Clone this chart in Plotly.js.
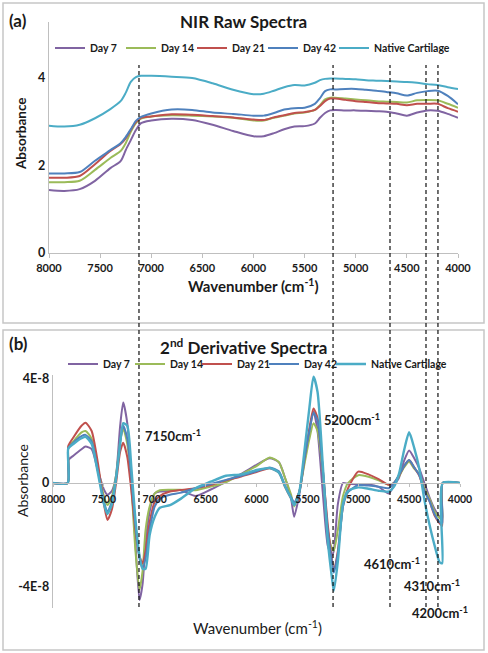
<!DOCTYPE html>
<html><head><meta charset="utf-8">
<script src="https://cdn.plot.ly/plotly-3.0.1.min.js"></script>
<style>html,body{margin:0;padding:0;background:#fff}#chart{width:488px;height:653px}</style>
</head><body><div id="chart"></div>
<script>
// ---------- data ----------
const seriesNames = ['Day 7', 'Day 14', 'Day 21', 'Day 42', 'Native Cartilage'];
const seriesColors = ['#8064A2', '#9BBB59', '#C0504D', '#4F81BD', '#4BACC6'];

// (a) NIR raw spectra
const rawWavenumber = [8000,7850,7700,7550,7400,7300,7250,7200,7150,7100,7000,6800,6600,6400,6200,6000,5900,5800,5700,5600,5500,5400,5350,5300,5250,5200,5100,5000,4900,4800,4700,4600,4500,4400,4300,4200,4100,4000];
const rawDay7   = [1.44,1.42,1.46,1.65,1.94,2.10,2.35,2.58,2.81,2.97,3.03,3.07,3.04,2.93,2.79,2.67,2.67,2.74,2.83,2.89,2.90,2.96,3.09,3.20,3.26,3.27,3.26,3.26,3.25,3.24,3.23,3.19,3.14,3.21,3.26,3.25,3.18,3.09];
const rawDay14  = [1.62,1.62,1.65,1.90,2.17,2.33,2.51,2.77,2.97,3.07,3.12,3.15,3.14,3.12,3.09,3.03,3.03,3.09,3.14,3.19,3.21,3.27,3.38,3.51,3.55,3.55,3.53,3.51,3.49,3.47,3.46,3.45,3.44,3.49,3.50,3.49,3.41,3.32];
const rawDay21  = [1.72,1.72,1.76,2.03,2.33,2.49,2.62,2.81,2.99,3.09,3.12,3.17,3.16,3.13,3.10,3.05,3.04,3.10,3.15,3.20,3.22,3.27,3.36,3.47,3.53,3.53,3.50,3.47,3.45,3.43,3.42,3.41,3.38,3.41,3.41,3.41,3.31,3.23];
const rawDay42  = [1.82,1.82,1.85,2.11,2.35,2.51,2.65,2.83,3.02,3.11,3.19,3.28,3.27,3.21,3.18,3.14,3.14,3.20,3.28,3.31,3.32,3.41,3.54,3.70,3.74,3.74,3.75,3.75,3.73,3.71,3.68,3.65,3.60,3.66,3.70,3.71,3.59,3.40];
const rawNative = [2.91,2.89,2.93,3.08,3.29,3.47,3.66,3.91,4.02,4.05,4.05,4.03,4.00,3.88,3.73,3.63,3.64,3.71,3.79,3.84,3.83,3.89,3.95,3.98,3.99,3.99,3.98,3.97,3.95,3.94,3.93,3.92,3.91,3.89,3.86,3.84,3.79,3.75];

// (b) 2nd derivative spectra, values in units of 1E-8
const derivScale = 1e-8;
const derivWavenumber = [8000,7855,7850,7800,7720,7680,7620,7560,7500,7465,7420,7380,7340,7310,7270,7230,7190,7150,7120,7090,7050,7000,6950,6850,6750,6600,6450,6300,6150,6000,5870,5780,5720,5660,5630,5580,5530,5480,5440,5400,5350,5300,5260,5240,5200,5150,5100,5000,4900,4800,4700,4650,4600,4550,4500,4450,4400,4350,4300,4250,4200,4175,4170,4000];
const derivDay7   = [0,0,0.88,1.05,1.3,1.4,1.3,0.5,-0.25,-0.45,-0.3,0.3,2.2,3.1,2.3,0.2,-2.3,-4.5,-3.9,-2.3,-1.1,-0.4,-0.33,-0.3,-0.27,-0.5,-0.25,0.05,0.35,0.7,0.95,0.8,0.2,-0.6,-1.3,-0.45,0.8,2.0,2.75,2.0,-0.3,-2.4,-2.8,-2.6,-0.8,0.0,-0.03,-0.05,-0.06,-0.15,-0.4,-0.1,0.2,0.85,1.25,0.95,0.55,0.0,-0.55,-1.0,-1.3,-1.35,0,0];
const derivDay14  = [0,0,1.37,1.6,1.95,2.0,1.7,0.6,-0.5,-0.85,-0.5,0.3,1.6,2.1,1.5,-0.1,-2.6,-4.1,-3.4,-1.8,-0.9,-0.4,-0.28,-0.26,-0.26,-0.28,-0.14,0.03,0.33,0.65,0.98,0.8,0.2,-0.45,-0.9,-0.35,0.7,1.7,2.3,2.0,0.5,-1.8,-2.5,-2.6,-1.8,-0.5,0.0,0.3,0.24,0.1,-0.07,0.0,0.25,0.6,0.82,0.55,0.35,-0.2,-0.6,-1.1,-1.36,-1.42,0,0];
const derivDay21  = [0,0,1.42,1.75,2.2,2.32,2.0,0.8,-0.8,-1.42,-1.0,0.0,1.2,1.55,1.0,-0.3,-1.8,-2.8,-3.1,-2.6,-1.5,-0.72,-0.5,-0.33,-0.27,-0.2,-0.08,0.1,0.25,0.42,0.57,0.4,-0.15,-0.6,-0.78,-0.35,0.9,2.1,2.87,2.5,0.6,-1.6,-2.9,-3.4,-2.6,-0.9,-0.2,0.44,0.33,0.15,-0.07,0.0,0.28,0.65,0.88,0.6,0.28,-0.3,-0.7,-1.25,-1.55,-1.65,0,0];
const derivDay42  = [0,0,1.33,1.55,1.8,1.85,1.6,0.5,-0.7,-1.1,-0.7,0.2,1.6,2.2,1.7,0.2,-1.6,-2.9,-3.27,-2.9,-1.8,-0.9,-0.6,-0.45,-0.38,-0.2,-0.04,0.12,0.28,0.45,0.6,0.45,-0.1,-0.55,-0.75,-0.35,0.9,2.0,2.7,2.4,0.6,-1.8,-3.0,-3.45,-2.7,-0.9,-0.35,-0.08,-0.1,-0.14,-0.2,0.0,0.3,0.65,0.88,0.6,0.3,-0.3,-0.7,-1.2,-1.5,-1.55,0,0];
const derivNative = [0,0,1.33,1.5,1.72,1.78,1.5,0.4,-0.8,-1.19,-0.8,0.2,1.5,2.3,2.2,0.6,-1.4,-2.8,-3.3,-3.3,-2.0,-1.3,-0.95,-0.85,-0.62,-0.2,0.05,0.28,0.33,0.5,0.57,0.4,-0.12,-0.6,-0.85,-0.35,1.2,2.9,4.09,3.5,0.8,-2.2,-3.6,-4.15,-3.0,-0.8,-0.3,-0.17,-0.22,-0.3,-0.33,-0.15,0.35,1.25,1.95,1.35,0.55,-0.65,-1.6,-2.4,-3.05,-3.09,0,0];

// marked bands (dashed lines) and their labels
const bandWavenumber = [7120, 5222, 4665, 4313, 4196];
const bandLabels = ['7150cm<sup>-1</sup>', '5200cm<sup>-1</sup>', '4610cm<sup>-1</sup>', '4310cm<sup>-1</sup>', '4200cm<sup>-1</sup>'];

// ticks
const xTickVals = [8000,7500,7000,6500,6000,5500,5000,4500,4000];
const rawYTickVals = [0,2,4];
const derivYTickVals = [-4e-8, 0, 4e-8];
const derivYTickText = ['-4E-8', '0', '4E-8'];

// ---------- build ----------
const W = 488, H = 653;
const px = x => x / W;
const py = y => 1 - y / H;
const FONT = 'Lato, "Open Sans", sans-serif';
const TXT = '#1a1a1a';

const rawSeries = [rawDay7, rawDay14, rawDay21, rawDay42, rawNative];
const derivSeries = [derivDay7, derivDay14, derivDay21, derivDay42, derivNative];
const topLegendWidths = [26, 26, 26, 26, 90];
const botLegendWidths = [22, 22, 22, 22, 90];

const traces = [];
rawSeries.forEach((ys, i) => traces.push({
  type: 'scatter', mode: 'lines', name: seriesNames[i],
  x: rawWavenumber, y: ys, xaxis: 'x', yaxis: 'y', legend: 'legend',
  legendwidth: topLegendWidths[i],
  line: {color: seriesColors[i], width: 2, shape: 'spline', smoothing: 0.8},
  hoverinfo: 'skip'
}));
derivSeries.forEach((ys, i) => traces.push({
  type: 'scatter', mode: 'lines', name: seriesNames[i],
  x: derivWavenumber, y: ys.map(v => v * derivScale), xaxis: 'x2', yaxis: 'y2', legend: 'legend2',
  legendwidth: botLegendWidths[i],
  line: {color: seriesColors[i], width: i === 4 ? 2.4 : 2, shape: 'spline', smoothing: 0.6},
  hoverinfo: 'skip'
}));

const axisCommon = {
  showgrid: false, zeroline: false, showline: true,
  linecolor: '#bfbfbf', linewidth: 1.3, tickcolor: '#bfbfbf'
};

const shapes = [
  {type: 'rect', xref: 'paper', yref: 'paper', x0: px(3), x1: px(484), y0: py(323), y1: py(3),
   line: {color: '#c6c6c6', width: 1.5}, layer: 'below'},
  {type: 'rect', xref: 'paper', yref: 'paper', x0: px(3), x1: px(484), y0: py(650), y1: py(330),
   line: {color: '#c6c6c6', width: 1.5}, layer: 'below'}
];
bandWavenumber.forEach(w => shapes.push({
  type: 'line', xref: 'x', yref: 'paper', x0: w, x1: w, y0: py(607), y1: py(65),
  line: {color: '#111', width: 1.2, dash: '4px,3px'}
}));

const ann = (text, x, y, opts) => Object.assign({
  text, xref: 'paper', yref: 'paper', x: px(x), y: py(y), showarrow: false,
  xanchor: 'center', yanchor: 'middle',
  font: {family: FONT, size: 13, color: TXT, weight: 'bold'}
}, opts || {});

const annotations = [
  ann('(a)', 18, 20, {font: {family: FONT, size: 17, color: TXT, weight: 'bold'}}),
  ann('NIR Raw Spectra', 243, 22, {font: {family: FONT, size: 17, color: TXT, weight: 'bold'}}),
  ann('Wavenumber (cm<sup>-1</sup>)', 253, 285, {font: {family: FONT, size: 15, color: TXT, weight: 'bold'}}),
  ann('Absorbance', 21, 134, {textangle: -90, font: {family: FONT, size: 13.5, color: TXT, weight: 'bold'}}),
  ann('(b)', 18, 343, {font: {family: FONT, size: 17, color: TXT, weight: 'bold'}}),
  ann('2<sup>nd</sup> Derivative Spectra', 243, 346, {font: {family: FONT, size: 17, color: TXT, weight: 'bold'}}),
  ann('Wavenumber (cm<sup>-1</sup>)', 257, 627, {font: {family: FONT, size: 15, color: TXT}}),
  ann('Absorbance', 22, 481, {textangle: -90, font: {family: FONT, size: 14, color: TXT}}),
  ann(bandLabels[0], 143, 435, {xanchor: 'left'}),
  ann(bandLabels[1], 322, 419, {xanchor: 'left'}),
  ann(bandLabels[2], 362, 563, {xanchor: 'left'}),
  ann(bandLabels[3], 402, 585, {xanchor: 'left'}),
  ann(bandLabels[4], 410, 612, {xanchor: 'left'})
];

const legendCommon = {
  orientation: 'h', xanchor: 'left', yanchor: 'middle',
  bgcolor: 'rgba(0,0,0,0)', borderwidth: 0, itemwidth: 30,
  itemclick: false, itemdoubleclick: false,
  font: {family: FONT, size: 10.5, color: TXT, weight: 'bold'}
};

const layout = {
  width: W, height: H, margin: {l: 0, r: 0, t: 0, b: 0},
  paper_bgcolor: '#fff', plot_bgcolor: 'rgba(0,0,0,0)',
  showlegend: true,
  legend: Object.assign({}, legendCommon, {x: px(50), y: py(48)}),
  legend2: Object.assign({}, legendCommon, {x: px(63), y: py(364)}),
  xaxis: Object.assign({}, axisCommon, {
    domain: [px(49), px(458)], range: [8000, 4000], anchor: 'y',
    tickvals: xTickVals, ticks: 'outside', ticklen: 4,
    tickfont: {family: FONT, size: 11, color: TXT, weight: 'bold'}
  }),
  yaxis: Object.assign({}, axisCommon, {
    domain: [py(253), py(22)], range: [0, 5.28], anchor: 'x',
    tickvals: rawYTickVals, ticks: '',
    tickfont: {family: FONT, size: 12.5, color: TXT, weight: 'bold'}
  }),
  xaxis2: Object.assign({}, axisCommon, {
    domain: [px(53), px(460)], range: [8000, 4000], anchor: 'free', position: py(483),
    tickvals: xTickVals, ticks: 'outside', ticklen: 3, side: 'bottom', ticklabelstandoff: 3,
    tickfont: {family: FONT, size: 10.5, color: TXT, weight: 'bold'}
  }),
  yaxis2: Object.assign({}, axisCommon, {
    domain: [py(608), py(375)], range: [-4.808e-8, 4.154e-8], anchor: 'x2',
    tickvals: derivYTickVals, ticktext: derivYTickText, ticks: '',
    tickfont: {family: FONT, size: 12.5, color: TXT, weight: 'bold'}
  }),
  shapes, annotations
};

Plotly.newPlot('chart', traces, layout, {staticPlot: true, displayModeBar: false});
</script>
</body></html>
